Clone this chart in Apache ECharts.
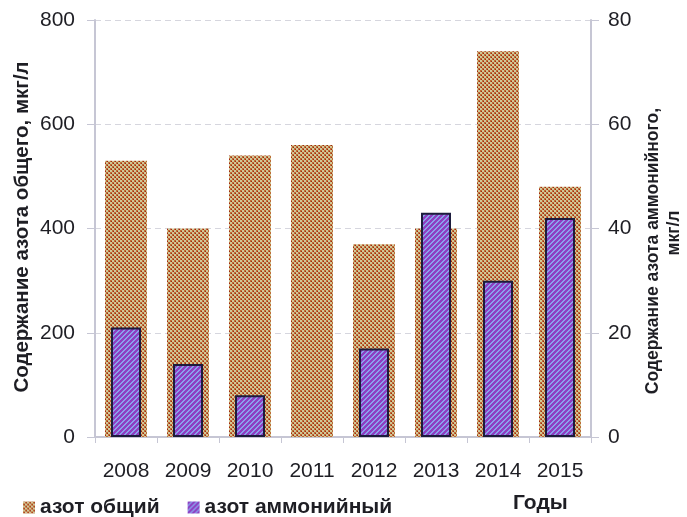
<!DOCTYPE html>
<html>
<head>
<meta charset="utf-8">
<script src="https://cdn.jsdelivr.net/npm/echarts@6/dist/echarts.min.js"></script>
<style>
  html, body { margin: 0; padding: 0; background: #fff; }
  #chart { width: 687px; height: 517px; }
</style>
</head>
<body>
<div id="chart"></div>
<script>
// Nitrogen content by year
const years = ['2008', '2009', '2010', '2011', '2012', '2013', '2014', '2015'];
const totalNitrogen = [530, 400, 540, 560, 370, 400, 740, 480];     // мкг/л, left axis
const ammoniumNitrogen = [21, 14, 8, null, 17, 43, 30, 42];          // мкг/л, right axis
const seriesNames = ['азот общий', 'азот аммонийный'];

const FONT = '"Liberation Sans", Arial, sans-serif';

// Staggered dot fill for total nitrogen
function dotTile() {
  const c = document.createElement('canvas');
  c.width = 4; c.height = 4;
  const g = c.getContext('2d');
  g.fillStyle = '#bd6a34';
  g.fillRect(0, 0, 4, 4);
  g.fillStyle = '#d0c898';
  g.fillRect(0, 0, 2, 2);
  g.fillRect(2, 2, 2, 2);
  g.fillStyle = '#a22414';
  g.fillRect(3, 1, 1, 1);
  g.fillRect(1, 3, 1, 1);
  return c;
}

// Diagonal "/" hatch for ammonium nitrogen
function hatchTile() {
  const n = 5;
  const c = document.createElement('canvas');
  c.width = n; c.height = n;
  const g = c.getContext('2d');
  for (let x = 0; x < n; x++) {
    for (let y = 0; y < n; y++) {
      g.fillStyle = ((x + y) % n) < 3 ? '#8e3ec2' : '#8aa0ec';
      g.fillRect(x, y, 1, 1);
    }
  }
  return c;
}

const axisGray = '#c6c6d4';
const chart = echarts.init(document.getElementById('chart'), null, { renderer: 'canvas' });

chart.setOption({
  animation: false,
  textStyle: { fontFamily: FONT },
  grid: { left: 95, right: 96, top: 20, bottom: 80 },
  legend: {
    left: 18,
    top: 492,
    itemWidth: 12,
    itemHeight: 12,
    itemGap: 28,
    icon: 'rect',
    data: seriesNames,
    itemStyle: { borderWidth: 0 },
    textStyle: { fontFamily: FONT, fontSize: 21, fontWeight: 'bold', color: '#1e1e24' }
  },
  xAxis: [
    {
      type: 'category',
      data: years,
      position: 'bottom',
      axisLine: { lineStyle: { color: axisGray, width: 2 } },
      axisTick: { show: true, length: 6, lineStyle: { color: axisGray, width: 1 } },
      axisLabel: { fontSize: 21, color: '#1e1e24', margin: 24, fontFamily: FONT }
    },
    {
      type: 'category',
      data: years,
      position: 'top',
      axisLine: { show: true, lineStyle: { color: axisGray, width: 1 } },
      axisTick: { show: false },
      axisLabel: { show: false }
    }
  ],
  yAxis: [
    {
      type: 'value',
      min: 0, max: 800, interval: 200,
      position: 'left',
      axisLine: { show: true, lineStyle: { color: axisGray, width: 2 } },
      axisTick: { show: true, length: 8, lineStyle: { color: axisGray, width: 1 } },
      axisLabel: { fontSize: 21, color: '#1e1e24', margin: 20, fontFamily: FONT },
      splitLine: { show: true, lineStyle: { color: '#d6d6de', type: [6, 4], width: 1 } }
    },
    {
      type: 'value',
      min: 0, max: 80, interval: 20,
      position: 'right',
      axisLine: { show: true, lineStyle: { color: axisGray, width: 2 } },
      axisTick: { show: true, length: 8, lineStyle: { color: axisGray, width: 1 } },
      axisLabel: { fontSize: 21, color: '#1e1e24', margin: 17, fontFamily: FONT },
      splitLine: { show: false }
    }
  ],
  series: [
    {
      name: seriesNames[0],
      type: 'bar',
      xAxisIndex: 0,
      yAxisIndex: 0,
      barWidth: 42,
      data: totalNitrogen,
      itemStyle: { color: { image: dotTile(), repeat: 'repeat' } },
      z: 2
    },
    {
      name: seriesNames[1],
      type: 'bar',
      xAxisIndex: 1,
      yAxisIndex: 1,
      barWidth: 30,
      data: ammoniumNitrogen,
      itemStyle: {
        color: { image: hatchTile(), repeat: 'repeat' },
        borderColor: '#1c1c3c',
        borderWidth: 2
      },
      z: 3
    }
  ],
  graphic: [
    {
      type: 'text',
      x: 22, y: 227,
      rotation: Math.PI / 2,
      style: {
        text: 'Содержание азота общего, мкг/л',
        font: 'bold 20.5px ' + FONT,
        fill: '#1e1e24',
        align: 'center',
        verticalAlign: 'middle'
      }
    },
    {
      type: 'text',
      x: 653, y: 251,
      rotation: Math.PI / 2,
      style: {
        text: 'Содержание азота аммонийного,',
        font: 'bold 17.5px ' + FONT,
        fill: '#1e1e24',
        align: 'center',
        verticalAlign: 'middle'
      }
    },
    {
      type: 'text',
      x: 674, y: 233,
      rotation: Math.PI / 2,
      style: {
        text: 'мкг/л',
        font: 'bold 17.5px ' + FONT,
        fill: '#1e1e24',
        align: 'center',
        verticalAlign: 'middle'
      }
    },
    {
      type: 'text',
      left: 513, top: 493,
      style: {
        text: 'Годы',
        font: 'bold 21px ' + FONT,
        fill: '#1e1e24'
      }
    }
  ]
});
</script>
</body>
</html>
